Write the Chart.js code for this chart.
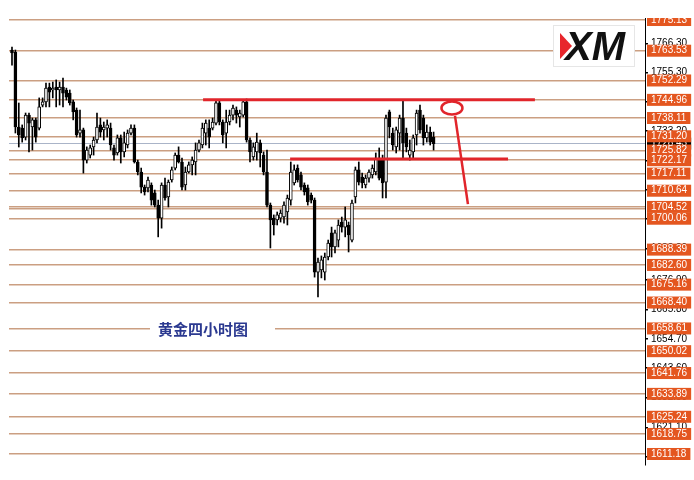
<!DOCTYPE html>
<html><head><meta charset="utf-8">
<script src="https://cdn.jsdelivr.net/npm/chart.js@4.4.1/dist/chart.umd.min.js"></script>
<style>html,body{margin:0;padding:0;background:#fff}#wrap{width:694px;height:480px;position:relative}</style>
</head><body><div id="wrap"><canvas id="c" width="694" height="480"></canvas></div>
<script>
// ---- Data (gold 4H candles) ----
const opens=[1763.8,1763.05,1734.71,1734.3,1730.9,1739.2,1734.7,1737.4,1734.3,1743.0,1744.2,1749.8,1748.7,1749.8,1748.7,1749.8,1748.7,1747.5,1744.2,1741.1,1732.4,1733.6,1722.2,1724.1,1727.2,1729.8,1735.5,1733.6,1734.3,1734.3,1726.8,1724.9,1730.6,1725.3,1727.9,1732.4,1734.3,1721.5,1717.7,1712.0,1711.7,1712.8,1709.8,1705.2,1700.3,1712.8,1708.3,1714.7,1719.2,1724.1,1721.5,1712.8,1717.7,1720.4,1721.5,1726.0,1727.9,1732.4,1734.3,1734.3,1736.2,1743.8,1736.6,1732.4,1736.6,1739.2,1741.1,1738.5,1739.2,1744.2,1729.8,1723.4,1725.3,1728.7,1724.1,1717.7,1705.2,1700.3,1699.6,1700.3,1700.7,1702.6,1707.1,1713.6,1719.2,1716.6,1712.8,1711.7,1709.0,1707.1,1679.9,1680.7,1679.9,1685.6,1694.7,1689.4,1692.0,1698.8,1696.9,1697.7,1692.0,1708.3,1718.5,1715.8,1712.8,1715.4,1716.6,1717.7,1723.0,1722.2,1713.9,1740.4,1732.4,1727.2,1732.4,1738.1,1732.4,1724.1,1725.3,1731.7,1741.1,1738.1,1730.6,1732.8,1730.9];
const highs=[1764.9,1763.8,1743.78,1735.5,1740.0,1740.0,1738.1,1738.1,1745.7,1745.7,1751.3,1751.3,1751.7,1752.5,1751.7,1753.2,1749.4,1748.7,1744.9,1741.9,1741.1,1734.3,1727.2,1727.9,1730.9,1740.0,1738.1,1736.6,1737.4,1736.2,1727.9,1731.7,1731.7,1732.8,1733.6,1735.5,1735.5,1722.2,1719.2,1712.8,1715.8,1713.6,1710.9,1707.1,1713.6,1715.4,1714.7,1719.6,1724.9,1727.2,1723.0,1719.6,1721.5,1723.4,1728.7,1729.8,1736.2,1737.4,1737.4,1738.1,1744.9,1744.9,1737.4,1741.1,1741.1,1743.0,1742.3,1741.1,1744.9,1745.3,1730.6,1728.7,1732.4,1729.8,1725.3,1726.0,1706.0,1701.5,1702.6,1703.4,1706.4,1709.0,1721.5,1720.4,1720.4,1717.7,1713.6,1712.8,1709.8,1707.9,1685.2,1686.0,1687.1,1692.0,1696.9,1695.8,1699.6,1700.7,1704.5,1698.8,1707.1,1719.6,1721.5,1717.3,1716.6,1718.5,1720.4,1724.9,1726.8,1724.1,1739.2,1741.1,1734.3,1734.7,1739.2,1744.9,1734.3,1729.8,1731.7,1741.1,1743.0,1739.2,1735.5,1734.7,1732.8];
const lows=[1758.1,1732.44,1727.15,1729.0,1729.8,1725.3,1726.0,1729.0,1733.6,1742.3,1742.3,1742.3,1745.7,1742.3,1743.0,1742.3,1744.9,1743.0,1737.4,1730.9,1730.9,1717.3,1721.1,1723.0,1724.1,1728.7,1730.9,1729.8,1730.9,1726.0,1722.2,1724.1,1721.1,1723.4,1726.8,1731.7,1721.1,1716.6,1709.8,1709.0,1710.2,1705.2,1704.5,1693.2,1696.5,1707.1,1704.5,1713.9,1718.5,1721.1,1710.9,1710.9,1717.3,1716.6,1716.6,1725.3,1726.8,1727.9,1726.8,1733.6,1735.5,1735.5,1728.7,1726.8,1735.5,1737.4,1736.2,1734.7,1738.5,1729.0,1721.5,1722.2,1722.2,1719.6,1716.6,1704.5,1689.0,1693.9,1697.7,1698.8,1698.4,1697.7,1705.2,1712.8,1713.9,1710.9,1709.0,1705.2,1706.0,1678.0,1670.5,1677.7,1676.9,1684.5,1685.6,1687.1,1689.4,1695.0,1693.2,1687.5,1691.3,1706.0,1712.8,1711.7,1711.7,1713.9,1715.4,1716.6,1714.7,1707.9,1707.9,1730.6,1726.0,1724.9,1726.0,1723.0,1725.3,1722.2,1723.0,1727.9,1732.4,1727.9,1729.0,1727.9,1726.0];
const closes=[1762.7,1734.71,1731.69,1730.6,1739.2,1736.2,1737.4,1730.9,1742.3,1744.2,1749.4,1747.9,1749.4,1748.7,1749.8,1747.5,1746.0,1743.8,1740.4,1731.7,1733.6,1722.2,1726.0,1726.8,1729.8,1734.7,1732.8,1734.7,1735.5,1727.9,1724.1,1730.6,1725.3,1728.7,1732.4,1734.3,1721.5,1717.7,1712.0,1710.2,1714.7,1707.1,1705.2,1700.3,1712.8,1707.9,1713.9,1718.5,1724.1,1721.5,1712.0,1717.7,1720.4,1722.2,1726.0,1728.7,1734.3,1736.2,1730.9,1736.6,1743.8,1736.6,1731.7,1736.6,1739.2,1741.9,1739.2,1740.0,1744.2,1729.8,1725.3,1727.2,1729.0,1724.9,1717.7,1705.2,1699.6,1697.7,1701.5,1702.2,1705.2,1707.9,1717.7,1718.5,1714.7,1712.0,1710.2,1706.4,1707.1,1679.9,1683.7,1684.5,1685.6,1690.9,1689.4,1694.7,1697.7,1696.9,1699.6,1693.9,1706.0,1718.5,1713.9,1713.6,1715.4,1717.7,1719.2,1723.0,1715.4,1713.6,1738.1,1734.7,1727.9,1733.6,1738.1,1728.7,1727.2,1726.0,1730.6,1740.0,1733.6,1730.6,1732.8,1729.0,1728.43];

const levelPrices=[1775.13,1763.53,1752.29,1744.96,1738.11,1731.20,1725.82,1722.17,1717.11,1710.64,1704.52,1700.06,1688.39,1682.60,1675.16,1668.40,1658.61,1650.02,1641.76,1633.89,1625.24,1618.75,1611.18];
const axisTicks=[1766.30,1755.30,1744.30,1733.20,1722.10,1711.00,1699.90,1688.80,1676.90,1665.80,1654.70,1643.60,1632.50,1621.10,1610.00];
const lastPrice=1728.43;
const extraLines=[1703.7];
const titleText='黄金四小时图';
const logoText='XM';
const resistanceLine={from:56.2,to:153.8,price:1744.96};
const supportLine={from:81.8,to:145.9,price:1722.6};
const circleMark={x:129.4,price:1741.9};
const arrowMark=[{x:130.3,y:1738.9},{x:134.1,y:1705.6}];

// ---- build tables ----
const wickData=opens.map((o,i)=>({x:i,y:[lows[i],highs[i]]}));
const bodyData=opens.map((o,i)=>({x:i,y:[o,closes[i]]}));

const tickList=[]
  .concat(axisTicks.map(v=>({value:v,kind:'axis'})))
  .concat(extraLines.map(v=>({value:v,kind:'extra'})))
  .concat([{value:lastPrice,kind:'last'}])
  .concat(levelPrices.map(v=>({value:v,kind:'level'})));

const RED='#e1252b';

const decor={
  id:'decor',
  beforeDraw(chart){
    const ctx=chart.ctx;ctx.save();ctx.fillStyle='#fff';ctx.fillRect(0,0,chart.width,chart.height);ctx.restore();
  },
  afterDraw(chart){
    const ctx=chart.ctx, xs=chart.scales.x, ys=chart.scales.y;
    ctx.save();
    ctx.fillStyle='#fff';ctx.fillRect(0,0,chart.width,chart.chartArea.top);
    ctx.strokeStyle=RED;ctx.lineWidth=2.5;
    ctx.beginPath();
    ctx.ellipse(xs.getPixelForValue(circleMark.x),ys.getPixelForValue(circleMark.price),10.5,6.5,0,0,Math.PI*2);
    ctx.stroke();
    const ty=ys.getPixelForValue(1658.61);
    ctx.fillStyle='#fff';ctx.fillRect(150,ty-11,125,22);
    ctx.fillStyle='#2b3990';
    ctx.font='bold 15px "Noto Sans CJK SC"';
    ctx.textAlign='center';ctx.textBaseline='middle';
    ctx.fillText(titleText,203,ty+1);
    // logo
    ctx.fillStyle='#fff';ctx.fillRect(553,25,82,42);
    ctx.strokeStyle='#e6e6e6';ctx.lineWidth=1;ctx.strokeRect(553.5,25.5,81,41);
    ctx.fillStyle='#e8262c';
    ctx.beginPath();ctx.moveTo(560,33);ctx.lineTo(572,46);ctx.lineTo(560,59);ctx.closePath();ctx.fill();
    ctx.fillStyle='#111';
    ctx.font='italic 900 40px "Liberation Sans"';
    ctx.textAlign='left';ctx.textBaseline='alphabetic';
    ctx.fillText(logoText,565,60);
    ctx.restore();
  }
};

new Chart(document.getElementById('c'),{
  type:'bar',
  data:{datasets:[
    {type:'line',data:[{x:resistanceLine.from,y:resistanceLine.price},{x:resistanceLine.to,y:resistanceLine.price}],borderColor:RED,borderWidth:3,pointRadius:0,order:0},
    {type:'line',data:[{x:supportLine.from,y:supportLine.price},{x:supportLine.to,y:supportLine.price}],borderColor:RED,borderWidth:3,pointRadius:0,order:0},
    {type:'line',data:arrowMark,borderColor:RED,borderWidth:2.5,pointRadius:0,order:0},
    {data:wickData,backgroundColor:'#000',borderWidth:0,barThickness:1,grouped:false,order:3},
    {data:bodyData,backgroundColor:c=>closes[c.dataIndex]>=opens[c.dataIndex]?'#ffffff':'#000000',borderColor:'#000',borderWidth:1,borderSkipped:false,barThickness:3,grouped:false,order:2}
  ]},
  options:{
    responsive:false,animation:false,
    layout:{padding:{left:9,top:18,bottom:15,right:0}},
    plugins:{legend:{display:false},tooltip:{enabled:false}},
    scales:{
      x:{type:'linear',display:false,min:-0.88,max:186.18,offset:false,grid:{display:false}},
      y:{
        position:'right',min:1607.02,max:1775.89,
        afterBuildTicks:s=>{s.ticks=tickList.map(t=>({value:t.value,kind:t.kind}));},
        afterFit:s=>{s.width=49;},
        border:{display:true,color:'#000',width:1},
        grid:{
          drawOnChartArea:true,drawTicks:true,tickLength:3,
          color:c=>{const k=c.tick&&c.tick.kind;return k==='level'||k==='extra'?'#cb9f82':(k==='last'?'#aab4c8':'rgba(0,0,0,0)');},
          lineWidth:c=>{const k=c.tick&&c.tick.kind;return k==='last'?1:1.5;},
          tickColor:c=>{const k=c.tick&&c.tick.kind;return k==='axis'?'#000':'rgba(0,0,0,0)';}
        },
        ticks:{
          autoSkip:false,padding:3,
          font:{family:'"Liberation Sans"',size:10,lineHeight:1},
          callback:(v,i,t)=>t[i].kind==='extra'?'':Number(v).toFixed(2),
          color:c=>{const k=c.tick&&c.tick.kind;return k==='axis'?'#000':'#fff';},
          showLabelBackdrop:c=>{const k=c.tick&&c.tick.kind;return k==='level'||k==='last';},
          backdropColor:c=>{const k=c.tick&&c.tick.kind;return k==='last'?'#000':'#e4561f';},
          backdropPadding:{x:4,y:1}
        }
      }
    }
  },
  plugins:[decor]
});
</script></body></html>
